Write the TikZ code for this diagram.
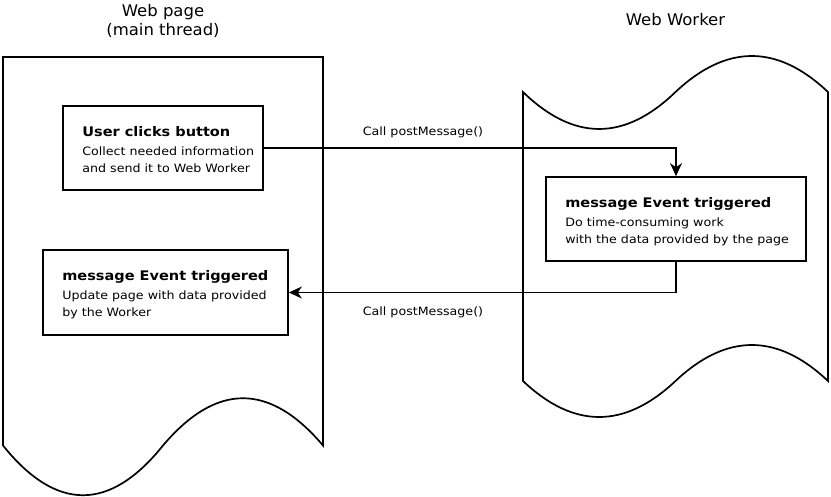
\documentclass[tikz,border=0pt]{standalone}
\usepackage{fontspec}
\setmainfont{DejaVu Sans}[FakeStretch=1.03]
\newfontfamily\boxfont{DejaVu Sans}[FakeStretch=1.1]
\usetikzlibrary{arrows.meta,positioning,calc}

\tikzset{
  lane/.style={line width=1.7pt, line join=miter},
  procbox/.style={draw, rectangle, line width=1.7pt, inner sep=0pt},
  boxtitle/.style={anchor=base west, inner sep=0pt, font=\boxfont\fontsize{13.2}{15}\selectfont\bfseries},
  boxbody/.style={anchor=north west, inner sep=0pt, align=left, font=\boxfont\fontsize{11.5}{17}\selectfont},
  lanetitle/.style={align=center, inner sep=0pt, font=\fontsize{16}{19}\selectfont},
  msglabel/.style={inner sep=0pt, font=\boxfont\fontsize{11.5}{13}\selectfont},
  flow/.style={line width=1.7pt, -{Stealth[length=13pt, width=12pt, inset=4pt]}}
}

\begin{document}
\begin{tikzpicture}[x=1pt, y=-1pt]
    \useasboundingbox (0,0) rectangle (831,497);
    % Web page lane (document shape)
    \draw[lane] (3,57) -- (323,57) -- (323,445.5)
      .. controls (269.7,382.5) and (216.3,382.5) .. (163,445.5)
      .. controls (109.7,511.8) and (56.3,511.8) .. (3,445.5) -- cycle;
    \node[lanetitle] (pagetitle) at (163,21) {Web page\\(main thread)};
    % Web Worker lane (tape shape)
    \draw[lane] (523,92)
      .. controls (573.7,141.3) and (624.5,141.3) .. (675.5,92)
      .. controls (726.5,44) and (777.3,44) .. (828,92) -- (828,381)
      .. controls (777.3,333) and (726.5,333) .. (675.5,381)
      .. controls (624.5,429) and (573.7,429) .. (523,381) -- cycle;
    \node[lanetitle] (workertitle) at (675.5,20) {Web Worker};

    % Steps
    \node[procbox, minimum width=200pt, minimum height=84pt] (click) at (163,148) {};
    \node[boxtitle] (clicktitle) at ($(click.north west)+(20,31)$) {User clicks button};
    \node[boxbody] (clickbody) at ($(click.north west)+(20,41.5)$)
      {Collect needed information\\and send it to Web Worker};

    \node[procbox, minimum width=260pt, minimum height=84pt] (work) at (676,219) {};
    \node[boxtitle] (worktitle) at ($(work.north west)+(20,31)$) {message Event triggered};
    \node[boxbody] (workbody) at ($(work.north west)+(20,41.5)$)
      {Do time-consuming work\\with the data provided by the page};

    \node[procbox, minimum width=245pt, minimum height=85pt] (update) at (165.5,292.5) {};
    \node[boxtitle] (updatetitle) at ($(update.north west)+(20,31)$) {message Event triggered};
    \node[boxbody] (updatebody) at ($(update.north west)+(20,41.5)$)
      {Update page with data provided\\by the Worker};

    % Messages
    \draw[flow] (click.east) -| (work.north);
    \draw[flow] (work.south) |- (update.east);
    \node[msglabel] (sendlabel) at (423,132) {Call postMessage()};
    \node[msglabel] (replylabel) at (423,312) {Call postMessage()};
\end{tikzpicture}
\end{document}
